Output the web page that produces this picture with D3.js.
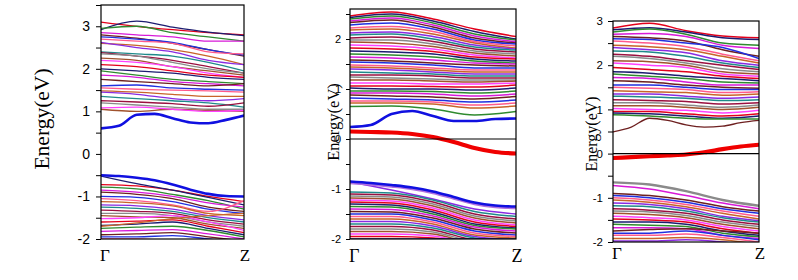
<!DOCTYPE html>
<html>
<head>
<meta charset="utf-8">
<script src="https://cdn.jsdelivr.net/npm/d3@7"></script>
<style>
  body { margin: 0; background: #fff; }
  svg { display: block; }
</style>
</head>
<body>
<div id="bands"></div>
<script>
// k-path sampling (fraction of the Γ–Z path)
var kCoarse = [0, 0.25, 0.5, 0.75, 1];
var kFine = [0, 0.125, 0.25, 0.375, 0.5, 0.625, 0.75, 0.875, 1];

var yTicks1 = [-2, -1.5, -1, -0.5, 0, 0.5, 1, 1.5, 2, 2.5, 3, 3.5];
var yTicks2 = [-2, -1.5, -1, -0.5, 0, 0.5, 1, 1.5, 2, 2.5];
var yTicks3 = [-2, -1.5, -1, -0.5, 0, 0.5, 1, 1.5, 2, 2.5, 3];
var kLabels = ["Γ", "Z"];

// ---- panel 1 (eV at kCoarse) ----
var p1Conduction = [
  [3.10, 3.00, 2.92, 2.85, 2.80], [2.92, 3.12, 2.98, 2.86, 2.78],
  [2.95, 3.00, 2.85, 2.75, 2.65], [2.85, 2.80, 2.75, 2.65, 2.65],
  [2.80, 2.72, 2.60, 2.45, 2.30], [2.75, 2.70, 2.62, 2.45, 2.32],
  [2.70, 2.65, 2.60, 2.40, 2.35], [2.60, 2.55, 2.45, 2.30, 2.10],
  [2.62, 2.50, 2.40, 2.20, 2.10], [2.40, 2.35, 2.30, 2.15, 1.95],
  [2.38, 2.30, 2.20, 2.05, 1.90], [2.35, 2.30, 2.15, 2.00, 1.90],
  [2.25, 2.20, 2.05, 1.95, 1.85], [2.20, 2.15, 2.05, 1.90, 1.80],
  [2.10, 2.05, 1.95, 1.85, 1.80], [2.00, 1.95, 1.90, 1.80, 1.75],
  [1.95, 1.85, 1.75, 1.70, 1.65], [1.85, 1.80, 1.70, 1.65, 1.60],
  [1.75, 1.70, 1.65, 1.60, 1.65], [1.60, 1.62, 1.55, 1.52, 1.50],
  [1.55, 1.52, 1.50, 1.48, 1.45], [1.48, 1.45, 1.40, 1.35, 1.35],
  [1.45, 1.40, 1.30, 1.25, 1.30], [1.35, 1.30, 1.25, 1.20, 1.10],
  [1.25, 1.22, 1.18, 1.12, 1.20], [1.20, 1.15, 1.10, 1.05, 1.05],
  [1.05, 1.00, 1.05, 1.02, 1.00], [1.08, 1.10, 1.05, 1.00, 1.02]
];
var p1Valence = [
  [-0.72, -0.75, -0.85, -1.00, -1.12], [-0.52, -0.70, -0.85, -1.02, -1.20],
  [-0.78, -0.82, -0.95, -1.10, -1.30], [-0.85, -0.90, -1.00, -1.15, -1.25],
  [-0.90, -0.95, -1.05, -1.25, -1.35], [-1.00, -1.02, -1.12, -1.30, -1.40],
  [-1.05, -1.10, -1.20, -1.35, -1.10], [-1.12, -1.15, -1.22, -1.40, -1.45],
  [-1.20, -1.22, -1.30, -1.45, -1.55], [-1.25, -1.28, -1.35, -1.50, -1.60],
  [-1.32, -1.35, -1.40, -1.55, -1.65], [-1.40, -1.40, -1.45, -1.60, -1.70],
  [-1.45, -1.48, -1.50, -1.65, -1.75], [-1.52, -1.50, -1.45, -1.60, -1.80],
  [-1.60, -1.58, -1.55, -1.70, -1.85], [-1.68, -1.65, -1.60, -1.75, -1.90],
  [-1.75, -1.72, -1.70, -1.80, -1.95], [-1.82, -1.80, -1.78, -1.88, -2.00],
  [-1.90, -1.88, -1.85, -1.95, -2.05], [-1.95, -1.95, -1.92, -2.00, -2.10],
  [-2.00, -2.00, -2.05, -2.10, -2.15], [-1.70, -1.62, -1.52, -1.45, -1.40]
];
var p1BlueCB = [0.60, 0.66, 0.92, 0.94, 0.84, 0.74, 0.72, 0.80, 0.90];
var p1BlueVB = [-0.50, -0.52, -0.56, -0.62, -0.72, -0.84, -0.94, -0.99, -1.00];

// ---- panel 2 ----
var p2Conduction = [
  [2.46, 2.54, 2.40, 2.20, 2.05], [2.43, 2.50, 2.36, 2.15, 2.00],
  [2.40, 2.46, 2.32, 2.10, 1.98], [2.36, 2.42, 2.28, 2.06, 1.95],
  [2.33, 2.38, 2.24, 2.02, 1.92], [2.28, 2.32, 2.20, 1.98, 1.90],
  [2.22, 2.25, 2.15, 1.95, 1.86], [2.18, 2.20, 2.10, 1.92, 1.82],
  [2.12, 2.14, 2.05, 1.88, 1.80], [2.08, 2.10, 2.00, 1.84, 1.78],
  [2.02, 2.04, 1.95, 1.80, 1.74], [1.98, 1.98, 1.90, 1.76, 1.70],
  [1.94, 1.92, 1.85, 1.72, 1.66], [1.88, 1.86, 1.80, 1.68, 1.62],
  [1.82, 1.80, 1.75, 1.64, 1.60], [1.76, 1.74, 1.70, 1.60, 1.56],
  [1.70, 1.68, 1.64, 1.56, 1.52], [1.64, 1.62, 1.58, 1.52, 1.50],
  [1.58, 1.56, 1.52, 1.48, 1.46], [1.54, 1.52, 1.48, 1.42, 1.42],
  [1.48, 1.46, 1.42, 1.38, 1.38], [1.44, 1.42, 1.38, 1.34, 1.34],
  [1.40, 1.38, 1.34, 1.30, 1.30], [1.34, 1.32, 1.30, 1.26, 1.26],
  [1.28, 1.28, 1.26, 1.22, 1.22], [1.24, 1.22, 1.20, 1.18, 1.18],
  [1.18, 1.18, 1.16, 1.14, 1.16], [1.12, 1.12, 1.10, 1.10, 1.12],
  [1.06, 1.06, 1.05, 1.04, 1.08], [1.02, 1.00, 1.00, 0.98, 1.02],
  [0.96, 0.96, 0.95, 0.92, 0.96], [0.92, 0.92, 0.90, 0.86, 0.90],
  [0.88, 0.86, 0.84, 0.80, 0.85], [0.82, 0.80, 0.78, 0.74, 0.78],
  [0.76, 0.76, 0.74, 0.68, 0.72], [0.72, 0.72, 0.70, 0.62, 0.66]
];
var p2GreenCB = [0.65, 0.66, 0.60, 0.48, 0.55];
var p2Valence = [
  [-0.86, -1.02, -1.20, -1.40, -1.50], [-1.06, -1.08, -1.22, -1.45, -1.55],
  [-1.10, -1.12, -1.26, -1.50, -1.60], [-1.14, -1.16, -1.30, -1.54, -1.64],
  [-1.18, -1.20, -1.34, -1.58, -1.68], [-1.22, -1.24, -1.38, -1.62, -1.72],
  [-1.26, -1.28, -1.42, -1.66, -1.75], [-1.30, -1.32, -1.46, -1.70, -1.78],
  [-1.35, -1.36, -1.50, -1.73, -1.80], [-1.40, -1.41, -1.54, -1.76, -1.84],
  [-1.45, -1.46, -1.58, -1.80, -1.88], [-1.50, -1.50, -1.62, -1.84, -1.92],
  [-1.55, -1.55, -1.66, -1.88, -1.95], [-1.60, -1.60, -1.70, -1.92, -1.98],
  [-1.65, -1.65, -1.74, -1.95, -2.02], [-1.70, -1.70, -1.78, -1.98, -2.05],
  [-1.75, -1.75, -1.82, -2.02, -2.08], [-1.80, -1.80, -1.86, -2.05, -2.10],
  [-1.85, -1.85, -1.90, -2.08, -2.12], [-1.90, -1.90, -1.94, -2.10, -2.15],
  [-1.95, -1.95, -1.98, -2.12, -2.18], [-2.00, -2.00, -2.00, -2.00, -2.00]
];
var p2BlueCB = [0.24, 0.28, 0.50, 0.56, 0.46, 0.36, 0.36, 0.40, 0.41];
var p2RedMid = [0.15, 0.14, 0.13, 0.10, 0.04, -0.06, -0.18, -0.26, -0.29];
var p2BlueVB = [-0.85, -0.88, -0.92, -0.97, -1.05, -1.16, -1.27, -1.33, -1.35];
var p2VioletVB = [-0.88, -0.91, -0.95, -1.00, -1.08, -1.19, -1.30, -1.36, -1.38];

// ---- panel 3 ----
var p3Conduction = [
  [2.84, 2.95, 2.78, 2.66, 2.62], [2.80, 2.85, 2.75, 2.62, 2.58],
  [2.75, 2.82, 2.70, 2.50, 2.45], [2.70, 2.72, 2.65, 2.45, 2.38],
  [2.65, 2.62, 2.55, 2.35, 2.20], [2.60, 2.58, 2.50, 2.40, 2.15],
  [2.55, 2.50, 2.42, 2.25, 2.10], [2.45, 2.42, 2.35, 2.20, 2.05],
  [2.40, 2.35, 2.28, 2.10, 2.00], [2.32, 2.30, 2.20, 2.05, 1.95],
  [2.25, 2.20, 2.10, 2.00, 1.90], [2.20, 2.15, 2.05, 1.92, 1.85],
  [2.10, 2.08, 2.00, 1.85, 1.80], [2.05, 2.00, 1.95, 1.80, 1.75],
  [1.95, 1.90, 1.85, 1.75, 1.70], [1.85, 1.82, 1.75, 1.70, 1.65],
  [1.80, 1.75, 1.70, 1.62, 1.60], [1.72, 1.70, 1.62, 1.55, 1.55],
  [1.65, 1.62, 1.55, 1.50, 1.48], [1.55, 1.55, 1.50, 1.45, 1.45],
  [1.50, 1.48, 1.45, 1.38, 1.40], [1.42, 1.40, 1.38, 1.32, 1.35],
  [1.35, 1.35, 1.30, 1.25, 1.28], [1.30, 1.28, 1.25, 1.20, 1.22],
  [1.22, 1.20, 1.18, 1.12, 1.15], [1.15, 1.15, 1.10, 1.05, 1.10],
  [1.08, 1.08, 1.05, 1.00, 1.05], [1.02, 1.00, 0.98, 0.92, 0.98],
  [0.95, 0.95, 0.90, 0.85, 0.90], [0.92, 0.90, 0.85, 0.80, 0.85],
  [0.88, 0.85, 0.80, 0.78, 0.78]
];
var p3BrownCB = [0.49, 0.60, 0.80, 0.75, 0.65, 0.60, 0.62, 0.70, 0.75];
var p3RedMid = [-0.10, -0.08, -0.06, -0.04, -0.02, 0.03, 0.10, 0.16, 0.20];
var p3GrayVB = [-0.65, -0.70, -0.85, -1.05, -1.18];
var p3Valence = [
  [-0.72, -0.80, -0.95, -1.12, -1.25], [-0.90, -0.95, -1.05, -1.20, -1.30],
  [-0.95, -1.00, -1.10, -1.25, -1.35], [-1.00, -1.05, -1.15, -1.30, -1.42],
  [-1.05, -1.10, -1.20, -1.35, -1.48], [-1.12, -1.15, -1.25, -1.42, -1.52],
  [-1.18, -1.20, -1.30, -1.45, -1.55], [-1.25, -1.28, -1.35, -1.50, -1.60],
  [-1.30, -1.32, -1.40, -1.55, -1.65], [-1.35, -1.38, -1.45, -1.60, -1.70],
  [-1.42, -1.45, -1.50, -1.65, -1.75], [-1.48, -1.50, -1.55, -1.70, -1.80],
  [-1.55, -1.55, -1.60, -1.75, -1.85], [-1.60, -1.62, -1.65, -1.80, -1.88],
  [-1.68, -1.68, -1.70, -1.85, -1.92], [-1.75, -1.72, -1.70, -1.75, -1.80],
  [-1.80, -1.80, -1.75, -1.85, -1.95], [-1.85, -1.85, -1.82, -1.90, -2.00],
  [-1.92, -1.92, -1.90, -1.95, -2.05], [-1.98, -1.98, -1.95, -2.00, -2.10]
];

var palette = ["#e3001b", "#1c1c70", "#2f8a2f", "#d81ad8", "#6e2020", "#2030e0",
               "#ff5a8c", "#c8642a", "#8a2be2", "#1f8a8a", "#9a1040", "#8a8a8a",
               "#a0522d", "#ff40ff"];

var svg = d3.select("#bands").append("svg")
    .attr("width", 798)
    .attr("height", 280);

function drawPanel(cfg) {
    var x = d3.scaleLinear().domain([0, 1]).range([cfg.left, cfg.right]);
    var y = d3.scaleLinear().domain(cfg.domain).range([cfg.bottom, cfg.top]);
    var color = d3.scaleOrdinal().range(palette);

    var g = svg.append("g");

    // clip to the frame
    g.append("clipPath").attr("id", "clip" + cfg.id)
      .append("rect")
        .attr("x", cfg.left).attr("y", cfg.top)
        .attr("width", cfg.right - cfg.left)
        .attr("height", cfg.bottom - cfg.top);

    var plot = g.append("g").attr("clip-path", "url(#clip" + cfg.id + ")");

    var line = function(ks) {
        return d3.line()
            .x(function(d, i) { return x(ks[i]); })
            .y(function(d) { return y(d); })
            .curve(d3.curveMonotoneX);
    };

    // ordinary bands
    plot.selectAll("path.band")
        .data(cfg.bands)
        .join("path")
        .attr("class", "band")
        .attr("fill", "none")
        .attr("stroke", function(d, i) { return color(i); })
        .attr("stroke-width", cfg.bandWidth)
        .attr("d", line(kCoarse));

    // zero line
    if (cfg.zeroLine) {
        g.append("line")
            .attr("x1", cfg.left).attr("x2", cfg.right)
            .attr("y1", y(0)).attr("y2", y(0))
            .attr("stroke", "#000").attr("stroke-width", 1.2);
    }

    // highlighted bands
    cfg.featured.forEach(function(f) {
        plot.append("path")
            .datum(f.values)
            .attr("fill", "none")
            .attr("stroke", f.color)
            .attr("stroke-width", f.width)
            .attr("stroke-linecap", "round")
            .attr("d", line(f.values.length === kFine.length ? kFine : kCoarse));
    });

    // frame
    g.append("rect")
        .attr("x", cfg.left).attr("y", cfg.top)
        .attr("width", cfg.right - cfg.left)
        .attr("height", cfg.bottom - cfg.top)
        .attr("fill", "none")
        .attr("stroke", "#000")
        .attr("stroke-width", 1.2);

    // y axis
    var yAxis = g.append("g")
        .attr("transform", "translate(" + cfg.left + ",0)")
        .call(d3.axisLeft(y)
            .tickValues(cfg.ticks)
            .tickSize(cfg.tickLen)
            .tickPadding(cfg.tickPad)
            .tickFormat(function(d) { return Number.isInteger(d) ? d : ""; }));
    yAxis.select(".domain").remove();
    yAxis.selectAll("text")
        .attr("font-family", "Liberation Sans, Arial, sans-serif")
        .attr("font-size", cfg.tickFont + "px")
        .attr("fill", "#000");

    // axis title
    g.append("text")
        .attr("transform", "translate(" + cfg.titleX + "," + cfg.titleY + ") rotate(-90)")
        .attr("text-anchor", "middle")
        .attr("font-family", "Liberation Serif, Times New Roman, serif")
        .attr("font-size", cfg.titleFont + "px")
        .attr("fill", "#000")
        .text("Energy(eV)");

    // k-point labels
    g.append("text")
        .attr("x", cfg.left - 1).attr("y", cfg.kY)
        .attr("font-family", "Liberation Serif, Times New Roman, serif")
        .attr("font-size", cfg.kFont + "px")
        .text(kLabels[0]);
    g.append("text")
        .attr("x", cfg.right + 1).attr("y", cfg.kY)
        .attr("text-anchor", "middle")
        .attr("font-family", "Liberation Serif, Times New Roman, serif")
        .attr("font-size", cfg.kFont + "px")
        .text(kLabels[1]);
}

drawPanel({
    id: 1, left: 101, right: 244, top: 5, bottom: 239,
    domain: [-2, 3.5], ticks: yTicks1, tickLen: 5, tickPad: 6, tickFont: 14,
    bands: p1Conduction.concat(p1Valence), bandWidth: 1.3,
    featured: [
        { values: p1BlueCB, color: "#1010e0", width: 2.6 },
        { values: p1BlueVB, color: "#1010e0", width: 2.6 }
    ],
    zeroLine: false,
    titleX: 49, titleY: 119, titleFont: 21.5,
    kY: 261, kFont: 17
});

drawPanel({
    id: 2, left: 350, right: 516, top: 9, bottom: 239,
    domain: [-2, 2.6], ticks: yTicks2, tickLen: 4, tickPad: 5, tickFont: 11,
    bands: p2Conduction.concat(p2Valence), bandWidth: 1.5,
    featured: [
        { values: p2GreenCB, color: "#2f8a2f", width: 1.3 },
        { values: p2BlueCB, color: "#1010e0", width: 2.6 },
        { values: p2VioletVB, color: "#b070e0", width: 2.4 },
        { values: p2BlueVB, color: "#1010e0", width: 2.6 },
        { values: p2RedMid, color: "#f00000", width: 4.2 }
    ],
    zeroLine: true,
    titleX: 339, titleY: 122, titleFont: 16.5,
    kY: 262, kFont: 18
});

drawPanel({
    id: 3, left: 613, right: 759, top: 21, bottom: 242,
    domain: [-2, 3], ticks: yTicks3, tickLen: 5, tickPad: 5, tickFont: 11.5,
    bands: p3Conduction.concat(p3Valence), bandWidth: 1.5,
    featured: [
        { values: p3BrownCB, color: "#6e2020", width: 1.3 },
        { values: p3GrayVB, color: "#8a8a8a", width: 2.4 },
        { values: p3RedMid, color: "#f00000", width: 4.2 }
    ],
    zeroLine: true,
    titleX: 597, titleY: 134, titleFont: 16,
    kY: 259, kFont: 17
});
</script>
</body>
</html>
